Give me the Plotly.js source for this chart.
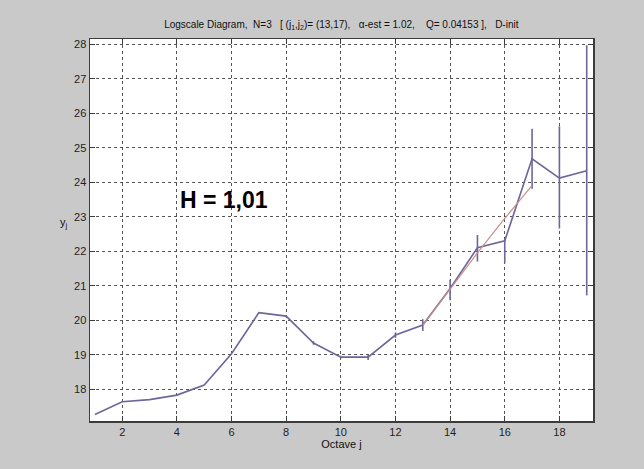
<!DOCTYPE html>
<html>
<head>
<meta charset="utf-8">
<script src="https://cdn.plot.ly/plotly-3.0.1.min.js"></script>
<style>html,body{margin:0;padding:0;background:#c9c9c9;}#chart{width:644px;height:469px;}</style>
</head>
<body>
<div id="chart"></div>
<script>
// Octave index j
const octaves = [1,2,3,4,5,6,7,8,9,10,11,12,13,14,15,16,17,18,19];
// y_j values
const yj = [17.27,17.64,17.70,17.83,18.12,19.03,20.22,20.12,19.34,18.93,18.93,19.57,19.86,20.92,22.10,22.30,24.68,24.12,24.33];
// confidence interval half-widths (upper / lower)
const ciPlus  = [0,0,0,0,0,0,0,0.03,0.05,0.04,0.08,0.08,0.17,0.25,0.37,0.05,0.87,1.50,3.64];
const ciMinus = [0,0,0,0,0,0,0,0.03,0.05,0.04,0.08,0.08,0.17,0.34,0.40,0.65,0.87,1.46,3.61];
// regression fit over (j1,j2) = (13,17)
const fitJ = [13,14,15,16,17];
const fitY = [19.85,20.90,21.95,22.95,23.91];
const titleText = "Logscale Diagram,  N=3   [ (j<sub>1</sub>,j<sub>2</sub>)= (13,17),   \u03b1-est = 1.02,    Q= 0.04153 ],   D-init";
const hLabel = "H = 1,01";

const lineColor = "#6d6698";
const fitColor = "#c89088";
const FONT = "Liberation Sans, Arial, sans-serif";

const traces = [
  {
    x: octaves, y: yj, type: "scatter", mode: "lines",
    line: {color: lineColor, width: 1.6},
    error_y: {type: "data", symmetric: false, array: ciPlus, arrayminus: ciMinus,
              color: lineColor, thickness: 1.6, width: 0},
    showlegend: false, hoverinfo: "skip"
  },
  {
    x: fitJ, y: fitY, type: "scatter", mode: "lines",
    line: {color: fitColor, width: 1.2},
    showlegend: false, hoverinfo: "skip"
  }
];

const axisCommon = {
  showline: true, linecolor: "#3c3c3c", linewidth: 1.5, mirror: "ticks",
  ticks: "inside", ticklen: 5, tickcolor: "#3c3c3c", tickwidth: 1,
  showgrid: true, gridcolor: "#555555", griddash: "dot", gridwidth: 1,
  zeroline: false,
  tickfont: {family: FONT, size: 11, color: "#1e1e1e"}
};

const layout = {
  width: 644, height: 469,
  paper_bgcolor: "#c9c9c9", plot_bgcolor: "#ffffff",
  margin: {l: 90, r: 51, t: 39, b: 48},
  title: {text: titleText, x: 0.53, xanchor: "center", y: 0.947, yanchor: "middle",
          font: {family: FONT, size: 10, color: "#111"}},
  xaxis: Object.assign({}, axisCommon, {
    range: [0.82, 19.23], tickmode: "linear", tick0: 2, dtick: 2,
    title: {text: "Octave j", standoff: 1, font: {family: FONT, size: 11, color: "#111"}}
  }),
  yaxis: Object.assign({}, axisCommon, {
    range: [17.08, 28.15], tickmode: "linear", tick0: 18, dtick: 1
  }),
  annotations: [
    {x: 5.74, y: 23.48, xref: "x", yref: "y", text: "<b>" + hLabel + "</b>", showarrow: false,
     font: {family: "Arial, Liberation Sans, sans-serif", size: 23, color: "#000"}},
    {x: 0, y: 0, xref: "paper", yref: "paper", text: "y<sub>j</sub>", showarrow: false,
     xanchor: "center", yanchor: "middle",
     font: {family: FONT, size: 11, color: "#111"}}
  ]
};
// place y label in paper coords from pixel estimate
layout.annotations[1].x = (64 - 90) / (644 - 90 - 51);
layout.annotations[1].y = 1 - (223 - 39) / (469 - 39 - 48);

Plotly.newPlot("chart", traces, layout, {staticPlot: true});
</script>
</body>
</html>
